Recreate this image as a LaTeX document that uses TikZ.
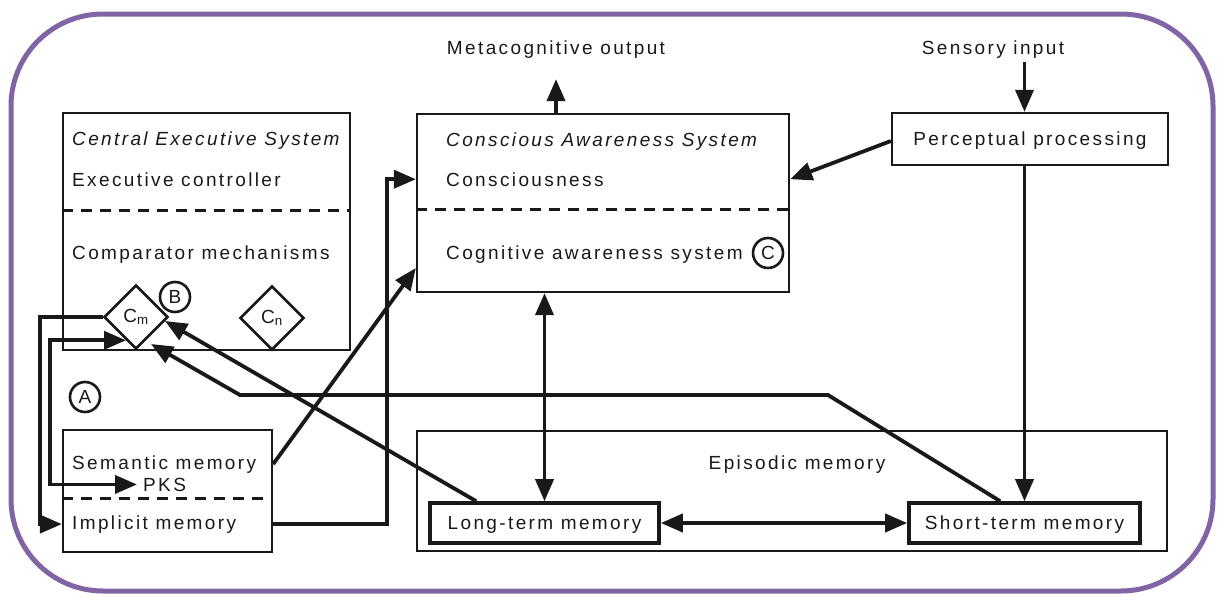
\documentclass[tikz,border=0pt]{standalone}
\usepackage{fontspec}
\setmainfont{Liberation Sans}[LetterSpace=12.5]
\usetikzlibrary{arrows.meta,shapes.geometric,calc}
\definecolor{framepurple}{RGB}{128,100,164}
\definecolor{ink}{RGB}{25,25,25}

\begin{document}
\begin{tikzpicture}[x=1pt,y=-1pt,
  every node/.style={font=\fontsize{19}{22}\selectfont, text=ink},
  box/.style={draw=ink, line width=2.3pt, rectangle, inner sep=0pt},
  memobox/.style={draw=ink, line width=3.6pt, rectangle, inner sep=0pt},
  txt/.style={inner sep=0pt, anchor=base west},
  ctxt/.style={inner sep=0pt, anchor=base},
  sep/.style={draw=ink, line width=3pt, dash pattern=on 11pt off 8pt},
  tag/.style={circle, draw=ink, line width=2.6pt, minimum size=30pt, inner sep=0pt,
    font=\fontsize{19}{20}\selectfont\addfontfeature{LetterSpace=0}},
  cmp/.style={diamond, draw=ink, line width=2.6pt, minimum width=64pt, minimum height=64pt,
    inner sep=0pt, font=\fontsize{19}{20}\selectfont\addfontfeature{LetterSpace=0}},
  conn/.style={draw=ink, line width=3.8pt},
  tipA/.tip={Triangle[length=22pt,width=18pt]},
  arr/.style={conn, -tipA},
  darr/.style={conn, tipA-tipA}
]
\useasboundingbox (0,0) rectangle (1218,597);

% outer frame
\draw[framepurple, line width=5pt, rounded corners=92pt] (11,14) rectangle (1213,591);

% ---- boxes ----
\node[box, minimum width=287pt, minimum height=237pt] (ces) at (206.5,231.5) {};
\node[box, minimum width=209pt, minimum height=122pt] (sem) at (167.5,491) {};
\node[box, minimum width=372pt, minimum height=178pt] (cas) at (603,203) {};
\node[box, minimum width=276pt, minimum height=52pt] (pp) at (1030,139) {};
\node[box, line width=2.8pt, minimum width=750pt, minimum height=120pt] (epi) at (792,491) {};
\node[memobox, minimum width=229pt, minimum height=40pt] (ltm) at (544.5,523) {};
\node[memobox, minimum width=231pt, minimum height=40pt] (stm) at (1024.5,523) {};

% dashed separators
\draw[sep] (ces.west |- 0,210) -- (ces.east |- 0,210);
\draw[sep] (cas.west |- 0,209) -- (cas.east |- 0,209);
\draw[sep] (sem.west |- 0,498) -- (sem.east |- 0,498);

% ---- texts ----
\node[txt] (cestitle) at (72,145) {\itshape Central Executive System};
\node[txt] (exec) at (72,186) {Executive controller};
\node[txt] (compm) at (72,259) {Comparator mechanisms};
\node[txt] (castitle) at (446,146) {\itshape Conscious Awareness System};
\node[txt] (cons) at (446,186) {Consciousness};
\node[txt] (cogaw) at (446,259) {Cognitive awareness system};
\node[txt] (sm) at (72,469) {Semantic memory};
\node[txt, inner xsep=6pt] (pks) at (137,491) {PKS};
\node[txt] (impl) at (72,529) {Implicit memory};
\node[ctxt] (epit) at (797,469) {Episodic memory};
\node[ctxt] (ltmt) at (ltm.center |- 0,529) {Long-term memory};
\node[ctxt] (stmt) at (stm.center |- 0,529) {Short-term memory};
\node[ctxt] (ppt) at (pp.center |- 0,145) {Perceptual processing};
\node[ctxt] (meta) at (556,54) {Metacognitive output};
\node[ctxt] (sens) at (993,54) {Sensory input};

% comparators and markers
\node[cmp] (cm) at (136,317) {C\textsubscript{m}};
\node[cmp] (cn) at (272,318) {C\textsubscript{n}};
\node[tag] (tagA) at (85,397) {A};
\node[tag] (tagB) at (175,297) {B};
\node[tag] (tagC) at (768,253) {C};

% entry points on the comparator Cm
\coordinate (cmA) at ($(cm.west)!0.7!(cm.south)$);
\coordinate (cmB) at (151,344);
\coordinate (cmC) at (165,321);

% ---- connectors ----
% Cm to implicit memory, Cm and PKS
\draw[arr] (cm.west) -- (cm.west -| 40,0) |- (sem.west |- impl.west);
\draw[darr] (cmA) -- (cmA -| 50,0) |- (pks.west);

% semantic and implicit memory up to the awareness system
\draw[arr] (sem.east |- sm.west) -- (cas.west |- 0,268);
\draw[arr] (sem.east |- impl.west) -- (impl.west -| 387,0) -- (cons.west -| 387,0) -- (cas.west |- cons.west);

% episodic memory back to Cm
\draw[arr] ($(ltm.north west)+(48,0)$) -- (cmC);
\draw[arr] ($(stm.north west)+(93,0)$) -- (828,395) -- (240,395) -- (cmB);

% awareness system links
\draw[arr, shorten >=21pt] (cas.north -| meta.south) -- (meta.south);
\draw[darr] (ltm.north) -- (ltm.north |- cas.south);
\draw[darr] (ltm.east) -- (stm.west);

% perceptual pathway
\draw[arr] (stm.north |- sens.south) ++(0,4) -- (stm.north |- pp.north);
\draw[arr] (pp.west |- 0,141) -- (cas.east |- cons.west);
\draw[arr] (stm.north |- pp.south) -- (stm.north);
\end{tikzpicture}
\end{document}
